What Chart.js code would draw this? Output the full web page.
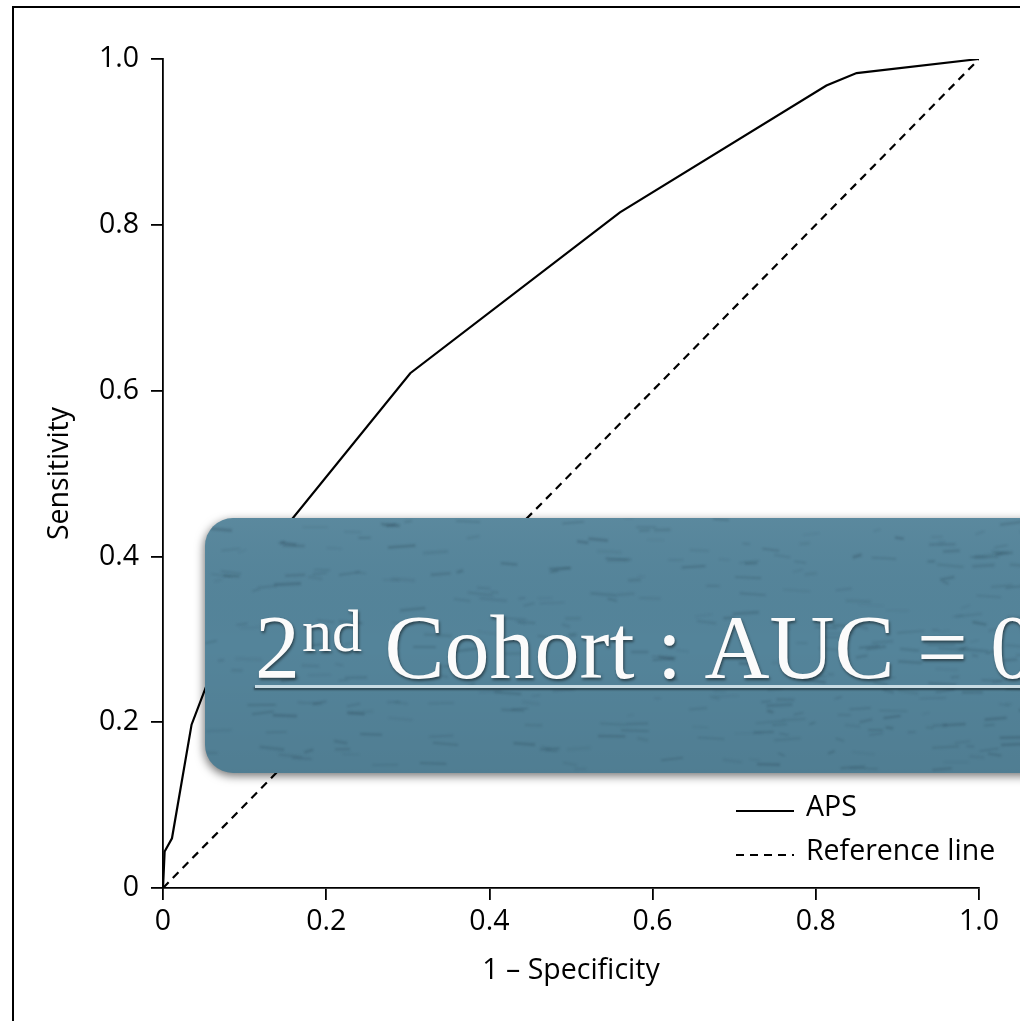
<!DOCTYPE html>
<html>
<head>
<meta charset="utf-8">
<script src="https://cdn.jsdelivr.net/npm/chart.js@4"></script>
<style>
  html, body { margin: 0; padding: 0; background: #fff; }
  #wrap { width: 1020px; height: 1021px; position: relative; }
</style>
</head>
<body>
<div id="wrap"><canvas id="roc"></canvas></div>
<script>
// ROC curve points (1 - specificity, sensitivity)
const apsFpr = [0, 0.002, 0.011, 0.035, 0.107, 0.303, 0.56, 0.813, 0.85, 1.0];
const apsSens = [0, 0.044, 0.06, 0.197, 0.383, 0.621, 0.815, 0.968, 0.983, 1.0];
const refFpr = [0, 1];
const refSens = [0, 1];
const tickValues = [0, 0.2, 0.4, 0.6, 0.8, 1.0];
const seriesLabels = ['APS', 'Reference line'];
const bannerText = ['2', 'nd', ' Cohort : AUC = 0'];

const FONT = '"Open Sans", "Noto Sans", sans-serif';
const FONT_SIZE = 28.5;

const toPoints = (xs, ys) => xs.map((x, i) => ({ x: x, y: ys[i] }));

const tickLabel = v => (v === 0 ? '0' : v.toFixed(1));

// white page + the black frame round the figure
const framePlugin = {
  id: 'frame',
  beforeDraw(chart) {
    const ctx = chart.ctx;
    ctx.save();
    ctx.fillStyle = '#fff';
    ctx.fillRect(0, 0, chart.width, chart.height);
    ctx.strokeStyle = '#000';
    ctx.lineWidth = 2;
    ctx.beginPath();
    ctx.moveTo(13, chart.height + 5);
    ctx.lineTo(13, 7);
    ctx.lineTo(chart.width + 5, 7);
    ctx.stroke();
    ctx.restore();
  }
};

// slide banner laid over the plot
const bannerPlugin = {
  id: 'banner',
  afterDatasetsDraw(chart) {
    const ctx = chart.ctx;
    const x = 205, y = 518, w = 900, h = 255, r = 28;
    ctx.save();

    ctx.shadowColor = 'rgba(0,0,0,0.55)';
    ctx.shadowBlur = 10;
    ctx.shadowOffsetX = -1;
    ctx.shadowOffsetY = 3;
    ctx.fillStyle = '#54849a';
    ctx.beginPath();
    ctx.roundRect(x, y, w, h, r);
    ctx.fill();
    ctx.shadowColor = 'transparent';

    // faint mottled texture
    ctx.clip();
    const g = ctx.createLinearGradient(0, y, 0, y + h);
    g.addColorStop(0, 'rgba(255,255,255,0.04)');
    g.addColorStop(0.5, 'rgba(0,0,0,0)');
    g.addColorStop(1, 'rgba(0,0,0,0.05)');
    ctx.fillStyle = g;
    ctx.fillRect(x, y, w, h);
    let seed = 7;
    const rnd = () => { seed = (seed * 16807) % 2147483647; return seed / 2147483647; };
    ctx.filter = 'blur(1px)';
    for (let i = 0; i < 360; i++) {
      const sx = x + rnd() * w, sy = y + rnd() * h;
      const len = 6 + rnd() * 22;
      ctx.strokeStyle = 'rgba(35,60,75,' + (0.08 + rnd() * 0.18).toFixed(2) + ')';
      ctx.lineWidth = 1 + rnd() * 2;
      ctx.beginPath();
      ctx.moveTo(sx, sy);
      ctx.lineTo(sx + len, sy + (rnd() - 0.5) * 6);
      ctx.stroke();
    }
    ctx.filter = 'none';

    // underline
    ctx.shadowColor = 'rgba(0,0,0,0.45)';
    ctx.shadowBlur = 2;
    ctx.shadowOffsetY = 2;
    ctx.fillStyle = '#c9dce4';
    ctx.fillRect(255, 685, 800, 3);

    // heading text
    ctx.shadowColor = 'rgba(0,0,0,0.5)';
    ctx.shadowBlur = 3;
    ctx.shadowOffsetX = 1;
    ctx.shadowOffsetY = 2;
    ctx.fillStyle = '#fbfbfb';
    ctx.textBaseline = 'alphabetic';
    ctx.textAlign = 'left';
    const serif = '"Liberation Serif", "DejaVu Serif", serif';
    let tx = 255;
    ctx.font = '90px ' + serif;
    ctx.fillText(bannerText[0], tx, 678);
    tx += ctx.measureText(bannerText[0]).width + 2;
    ctx.font = '60px ' + serif;
    ctx.fillText(bannerText[1], tx, 651);
    tx += ctx.measureText(bannerText[1]).width;
    ctx.font = '90px ' + serif;
    ctx.fillText(bannerText[2], tx, 678);
    ctx.restore();
  }
};

// legend in the lower right corner of the plot
const legendPlugin = {
  id: 'cornerLegend',
  afterDraw(chart) {
    const ctx = chart.ctx;
    ctx.save();
    ctx.font = FONT_SIZE + 'px ' + FONT;
    ctx.fillStyle = '#000';
    ctx.textBaseline = 'middle';
    ctx.textAlign = 'left';
    chart.data.datasets.forEach((ds, i) => {
      const yy = 808 + i * 44;
      ctx.strokeStyle = '#000';
      ctx.lineWidth = 2;
      ctx.setLineDash(ds.borderDash || []);
      ctx.beginPath();
      ctx.moveTo(736, yy + 3);
      ctx.lineTo(794, yy + 3);
      ctx.stroke();
      ctx.setLineDash([]);
      ctx.fillText(ds.label, 806, yy);
    });
    ctx.restore();
  }
};

const axisStyle = (titleText, titlePad) => ({
  type: 'linear',
  min: 0,
  max: 1,
  afterBuildTicks(scale) {
    scale.ticks = tickValues.map(v => ({ value: v }));
  },
  ticks: {
    callback: tickLabel,
    color: '#000',
    font: { family: FONT, size: FONT_SIZE },
    maxRotation: 0,
    autoSkip: false
  },
  grid: {
    drawOnChartArea: false,
    drawTicks: true,
    tickLength: 12,
    color: '#000',
    lineWidth: 1.8
  },
  border: { display: true, color: '#000', width: 1.8 },
  title: {
    display: true,
    text: titleText,
    color: '#000',
    font: { family: FONT, size: FONT_SIZE },
    padding: titlePad
  }
});

const xAxis = axisStyle('1 – Specificity', { top: 0, bottom: 33 });
xAxis.position = 'bottom';
xAxis.ticks.padding = 5;
xAxis.afterFit = s => { s.height = 133; };

const yAxis = axisStyle('Sensitivity', { top: 43, bottom: 0 });
yAxis.position = 'left';
yAxis.ticks.padding = 12;
yAxis.afterFit = s => { s.width = 163; };

new Chart(document.getElementById('roc'), {
  type: 'scatter',
  data: {
    datasets: [
      {
        label: seriesLabels[0],
        data: toPoints(apsFpr, apsSens),
        showLine: true,
        borderColor: '#000',
        borderWidth: 2.2,
        pointRadius: 0,
        tension: 0
      },
      {
        label: seriesLabels[1],
        data: toPoints(refFpr, refSens),
        showLine: true,
        borderColor: '#000',
        borderWidth: 2.2,
        borderDash: [8, 6],
        pointRadius: 0
      }
    ]
  },
  options: {
    responsive: true,
    maintainAspectRatio: false,
    animation: false,
    devicePixelRatio: 1,
    layout: { padding: { left: 0, top: 59, right: 41, bottom: 0 } },
    plugins: {
      legend: { display: false },
      tooltip: { enabled: false }
    },
    scales: { x: xAxis, y: yAxis }
  },
  plugins: [framePlugin, bannerPlugin, legendPlugin]
});
</script>
</body>
</html>
